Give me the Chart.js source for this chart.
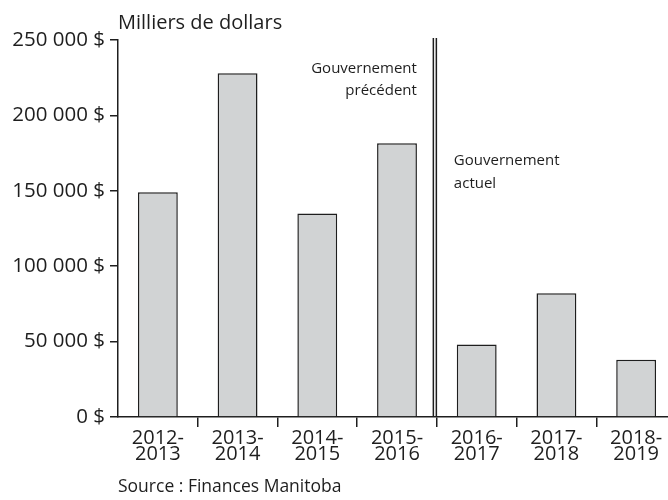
<!DOCTYPE html>
<html>
<head>
<meta charset="utf-8">
<script src="https://cdn.jsdelivr.net/npm/chart.js@4/dist/chart.umd.min.js"></script>
<style>
  html, body { margin: 0; padding: 0; background: #fff; overflow: hidden; }
  #wrap { width: 676px; height: 500px; }
</style>
</head>
<body>
<div id="wrap"><canvas id="budget-chart"></canvas></div>
<script>
// Exercices budgétaires et montants (milliers de dollars)
const years = [
  ['2012-', '2013'], ['2013-', '2014'], ['2014-', '2015'], ['2015-', '2016'],
  ['2016-', '2017'], ['2017-', '2018'], ['2018-', '2019']
];
const amounts = [149000, 228000, 135000, 181500, 48000, 82000, 38000];
const yTicks = [0, 50000, 100000, 150000, 200000, 250000];

const fontName = '"Open Sans", "DejaVu Sans", sans-serif';
const ink = '#1e1e1e';

function formatDollars(v) {
  return v.toLocaleString('fr-CA').replace(/\s/g, ' ') + ' $';
}

// textes, séparateur et source
const extrasPlugin = {
  id: 'extras',
  afterDraw(chart) {
    const ctx = chart.ctx;
    const area = chart.chartArea;
    const x = chart.scales.x;
    ctx.save();
    ctx.fillStyle = ink;
    ctx.textBaseline = 'middle';

    ctx.font = '20px ' + fontName;
    ctx.textAlign = 'left';
    ctx.fillText('Milliers de dollars', area.left, area.top - 17);

    // ligne double entre les deux gouvernements
    const sep = x.getPixelForValue(3.5);
    ctx.strokeStyle = ink;
    ctx.lineWidth = 1.5;
    [sep - 3.5, sep - 0.5].forEach(function (lx) {
      ctx.beginPath();
      ctx.moveTo(lx, area.top - 2);
      ctx.lineTo(lx, area.bottom);
      ctx.stroke();
    });

    ctx.font = '15px ' + fontName;
    ctx.textAlign = 'right';
    ctx.fillText('Gouvernement', sep - 20, area.top + 29);
    ctx.fillText('précédent', sep - 20, area.top + 51);
    ctx.textAlign = 'left';
    ctx.fillText('Gouvernement', sep + 17, area.top + 121);
    ctx.fillText('actuel', sep + 17, area.top + 144);

    ctx.font = '17.5px ' + fontName;
    ctx.fillText('Source : Finances Manitoba', area.left, 487);
    ctx.restore();
  }
};

new Chart(document.getElementById('budget-chart'), {
  type: 'bar',
  data: {
    labels: years,
    datasets: [{
      data: amounts,
      backgroundColor: '#d1d3d4',
      borderColor: ink,
      borderWidth: 1.5,
      barPercentage: 0.5,
      categoryPercentage: 1.0
    }]
  },
  options: {
    responsive: true,
    maintainAspectRatio: false,
    animation: false,
    layout: { padding: { top: 40, right: 0, bottom: 0, left: 0 } },
    plugins: {
      legend: { display: false },
      title: { display: false },
      tooltip: { enabled: false }
    },
    scales: {
      x: {
        offset: true,
        grid: {
          offset: true,
          drawOnChartArea: false,
          drawTicks: true,
          tickLength: 10,
          color: function (c) { return c.index === 0 ? 'rgba(0,0,0,0)' : ink; },
          lineWidth: 1.5
        },
        border: { display: true, color: ink, width: 1.5 },
        ticks: {
          color: ink,
          font: { family: fontName, size: 20, lineHeight: 0.76 },
          padding: 4,
          maxRotation: 0,
          autoSkip: false
        },
        afterFit: function (scale) { scale.height = 83; }
      },
      y: {
        min: 0,
        max: 250000,
        afterBuildTicks: function (scale) {
          scale.ticks = yTicks.map(function (v) { return { value: v }; });
        },
        grid: {
          drawOnChartArea: false,
          drawTicks: true,
          tickLength: 8,
          color: ink,
          lineWidth: 1.5
        },
        border: { display: true, color: ink, width: 1.5 },
        ticks: {
          color: ink,
          font: { family: fontName, size: 20.5 },
          padding: 5,
          callback: function (v) { return formatDollars(v); }
        },
        afterFit: function (scale) { scale.width = 118; }
      }
    }
  },
  plugins: [extrasPlugin]
});
</script>
</body>
</html>
